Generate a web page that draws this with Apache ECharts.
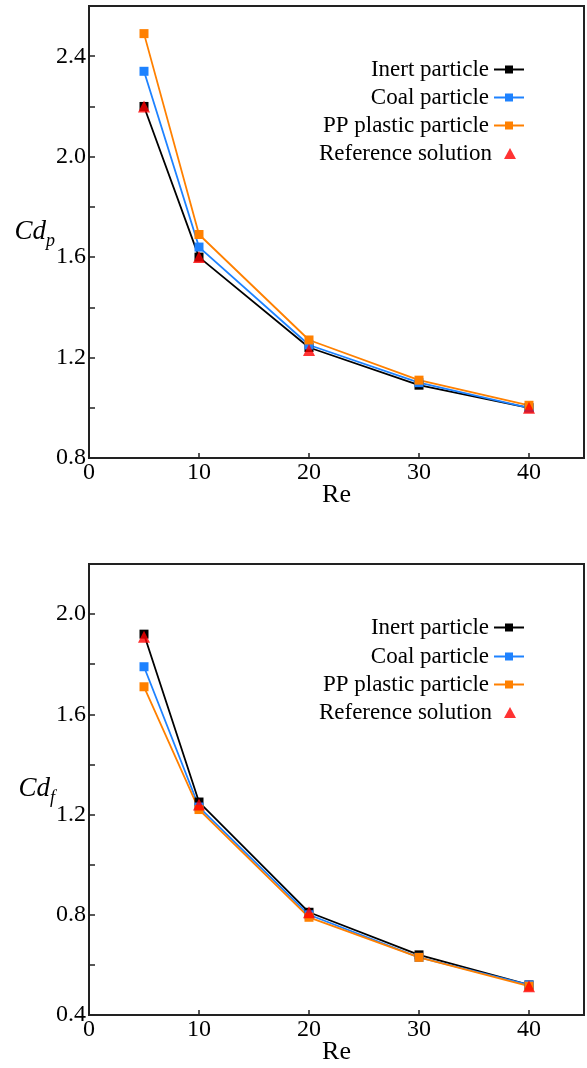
<!DOCTYPE html>
<html><head><meta charset="utf-8">
<script src="https://cdn.jsdelivr.net/npm/echarts@6/dist/echarts.min.js"></script>
<style>html,body{margin:0;padding:0;background:#fff}#c{width:587px;height:1068px}</style>
</head><body><div id="c"></div>
<script>
// ---- data ----
const re = [5, 10, 20, 30, 40];
const reRef = [5, 10, 20, 40];
const seriesNames = ['Inert particle', 'Coal particle', 'PP plastic particle', 'Reference solution'];
// Cd_p (top panel)
const cdpInert = [2.20, 1.60, 1.24, 1.09, 1.00];
const cdpCoal  = [2.34, 1.64, 1.25, 1.10, 1.00];
const cdpPP    = [2.49, 1.69, 1.27, 1.11, 1.01];
const cdpRef   = [2.20, 1.60, 1.23, 1.00];
// Cd_f (bottom panel)
const cdfInert = [1.92, 1.25, 0.81, 0.64, 0.52];
const cdfCoal  = [1.79, 1.23, 0.80, 0.63, 0.52];
const cdfPP    = [1.71, 1.22, 0.79, 0.63, 0.515];
const cdfRef   = [1.91, 1.24, 0.81, 0.515];
const yLabelsTop = ['0.8', '1.2', '1.6', '2.0', '2.4'];
const yLabelsBottom = ['0.4', '0.8', '1.2', '1.6', '2.0'];

// ---- styles ----
const FONT = 'Liberation Serif';
const colors = ['#000000', '#1E82FF', '#FF8000', '#FF0000'];
const AX = '#222';

function pairs(xs, ys) { return xs.map((x, i) => [x, ys[i]]); }

function xAxis(gi) {
  return {
    gridIndex: gi, type: 'value', min: 0, max: 45, interval: 10,
    axisLine: { show: true, onZero: false, lineStyle: { color: AX, width: 2 } },
    axisTick: { show: true, inside: true, length: 5, lineStyle: { color: AX, width: 1.5 } },
    axisLabel: { margin: 3, fontFamily: FONT, fontSize: 24, color: '#000', showMaxLabel: false,
      formatter: v => (v > 40 ? '' : String(v)) },
    splitLine: { show: false },
    name: 'Re', nameLocation: 'middle', nameGap: 24, nameMoveOverlap: false,
    nameTextStyle: { fontFamily: FONT, fontSize: 26, color: '#000' }
  };
}
function yAxis(gi, min, max, labels, sub) {
  return {
    gridIndex: gi, type: 'value', min: min, max: max, interval: 0.2,
    axisLine: { show: true, onZero: false, lineStyle: { color: AX, width: 2 } },
    axisTick: { show: true, inside: true, length: 6, lineStyle: { color: AX, width: 1.5 } },
    axisLabel: { margin: 3, fontFamily: FONT, fontSize: 24, color: '#000', showMaxLabel: false,
      formatter: v => { const s = v.toFixed(1); return labels.indexOf(s) >= 0 ? s : ''; } },
    splitLine: { show: false },
    name: '{a|Cd}{b|' + sub + '}', nameLocation: 'middle', nameRotate: 0, nameGap: 34, nameMoveOverlap: false,
    nameTextStyle: {
      rich: {
        a: { fontFamily: FONT, fontStyle: 'italic', fontSize: 27, color: '#000', verticalAlign: 'top', lineHeight: 36, padding: [4, 0, 0, 0] },
        b: { fontFamily: FONT, fontStyle: 'italic', fontSize: 18, color: '#000', verticalAlign: 'bottom', lineHeight: 36 }
      }
    }
  };
}
function lineSeries(gi, name, color, ys) {
  return {
    type: 'line', name: name, xAxisIndex: gi, yAxisIndex: gi,
    data: pairs(re, ys), symbol: 'rect', symbolSize: 9, showSymbol: true,
    lineStyle: { color: color, width: 1.8 }, itemStyle: { color: color },
    emphasis: { disabled: true }
  };
}
function refSeries(gi, ys) {
  return {
    type: 'scatter', name: seriesNames[3], xAxisIndex: gi, yAxisIndex: gi,
    data: pairs(reRef, ys), symbol: 'triangle', symbolSize: 12,
    itemStyle: { color: colors[3] }, emphasis: { disabled: true }, z: 5
  };
}
function legend(name, top) {
  return {
    data: [name], right: 62, top: top, orient: 'horizontal', align: 'right',
    itemWidth: 30, itemHeight: 10, padding: 0, selectedMode: false,
    textStyle: { fontFamily: FONT, fontSize: 23, color: '#000' }
  };
}
function refLegend(top) {
  return {
    data: [{ name: seriesNames[3], icon: 'triangle' }], right: 71, top: top, orient: 'horizontal', align: 'right',
    itemWidth: 12, itemHeight: 11, padding: 0, selectedMode: false,
    textStyle: { fontFamily: FONT, fontSize: 23, color: '#000', padding: [0, 7, 0, 0] }
  };
}

const chart = echarts.init(document.getElementById('c'), null, { renderer: 'canvas' });
chart.setOption({
  animation: false,
  backgroundColor: '#fff',
  grid: [
    { left: 89, top: 6, width: 495, height: 452, show: true, borderColor: AX, borderWidth: 2, backgroundColor: 'transparent' },
    { left: 89, top: 564, width: 495, height: 451, show: true, borderColor: AX, borderWidth: 2, backgroundColor: 'transparent' }
  ],
  xAxis: [xAxis(0), xAxis(1)],
  yAxis: [yAxis(0, 0.8, 2.6, yLabelsTop, 'p'), yAxis(1, 0.4, 2.2, yLabelsBottom, 'f')],
  legend: [
    legend(seriesNames[0], 58), legend(seriesNames[1], 86), legend(seriesNames[2], 114), refLegend(142),
    legend(seriesNames[0], 616), legend(seriesNames[1], 645), legend(seriesNames[2], 673), refLegend(701)
  ],
  series: [
    lineSeries(0, seriesNames[0], colors[0], cdpInert),
    lineSeries(0, seriesNames[1], colors[1], cdpCoal),
    lineSeries(0, seriesNames[2], colors[2], cdpPP),
    refSeries(0, cdpRef),
    lineSeries(1, seriesNames[0], colors[0], cdfInert),
    lineSeries(1, seriesNames[1], colors[1], cdfCoal),
    lineSeries(1, seriesNames[2], colors[2], cdfPP),
    refSeries(1, cdfRef)
  ]
});
</script></body></html>
